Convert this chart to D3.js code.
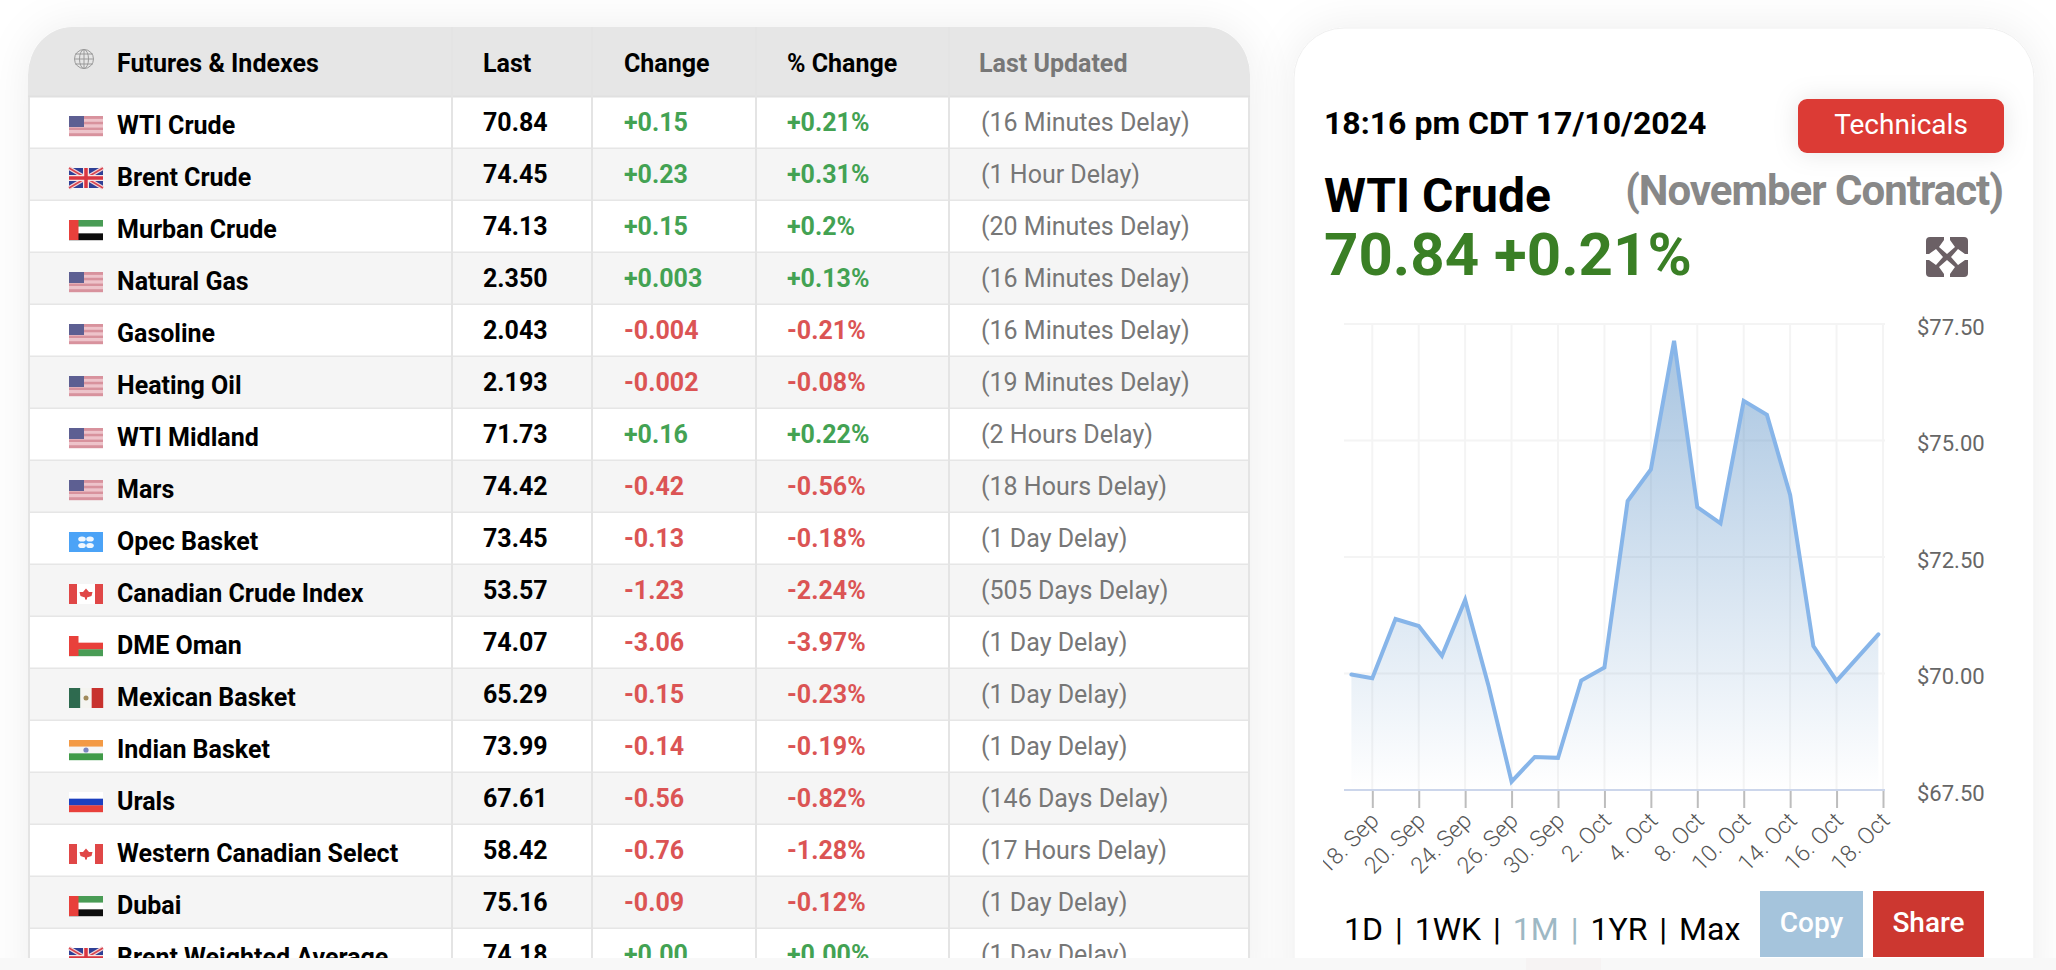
<!DOCTYPE html>
<html>
<head>
<meta charset="utf-8">
<title>Futures & Indexes</title>
<script src="https://cdn.jsdelivr.net/npm/d3@7"></script>
<style>
  html, body { margin: 0; padding: 0; background: #fff; overflow: hidden; }
  svg { display: block; font-family: Roboto, sans-serif; }
</style>
</head>
<body>
<svg id="page" width="2056" height="970"></svg>
<script>
// table
var names = ["WTI Crude", "Brent Crude", "Murban Crude", "Natural Gas", "Gasoline", "Heating Oil", "WTI Midland", "Mars", "Opec Basket", "Canadian Crude Index", "DME Oman", "Mexican Basket", "Indian Basket", "Urals", "Western Canadian Select", "Dubai", "Brent Weighted Average"];
var flags = ["us", "uk", "ae", "us", "us", "us", "us", "us", "opec", "ca", "om", "mx", "in", "ru", "ca", "ae", "uk"];
var lasts = ["70.84", "74.45", "74.13", "2.350", "2.043", "2.193", "71.73", "74.42", "73.45", "53.57", "74.07", "65.29", "73.99", "67.61", "58.42", "75.16", "74.18"];
var changes = ["+0.15", "+0.23", "+0.15", "+0.003", "-0.004", "-0.002", "+0.16", "-0.42", "-0.13", "-1.23", "-3.06", "-0.15", "-0.14", "-0.56", "-0.76", "-0.09", "+0.00"];
var pcts = ["+0.21%", "+0.31%", "+0.2%", "+0.13%", "-0.21%", "-0.08%", "+0.22%", "-0.56%", "-0.18%", "-2.24%", "-3.97%", "-0.23%", "-0.19%", "-0.82%", "-1.28%", "-0.12%", "+0.00%"];
var delays = ["(16 Minutes Delay)", "(1 Hour Delay)", "(20 Minutes Delay)", "(16 Minutes Delay)", "(16 Minutes Delay)", "(19 Minutes Delay)", "(2 Hours Delay)", "(18 Hours Delay)", "(1 Day Delay)", "(505 Days Delay)", "(1 Day Delay)", "(1 Day Delay)", "(1 Day Delay)", "(146 Days Delay)", "(17 Hours Delay)", "(1 Day Delay)", "(1 Day Delay)"];
var headers = ["Futures & Indexes", "Last", "Change", "% Change", "Last Updated"];

// chart
var sessions = [0.1, 1, 2, 3, 4, 5, 6, 7, 8, 9, 10, 11, 12, 13, 14, 15, 16, 17, 18, 19, 20, 21, 22.8];
var prices = [69.98, 69.90, 71.17, 71.02, 70.38, 71.58, 69.75, 67.68, 68.21, 68.19, 69.85, 70.13, 73.70, 74.38, 77.14, 73.57, 73.22, 75.85, 75.55, 73.83, 70.59, 69.84, 70.84];
var tickSessions = [1, 3, 5, 7, 9, 11, 13, 15, 17, 19, 21, 23];
var tickLabels = ["18. Sep", "20. Sep", "24. Sep", "26. Sep", "30. Sep", "2. Oct", "4. Oct", "8. Oct", "10. Oct", "14. Oct", "16. Oct", "18. Oct"];
var priceTicks = [67.5, 70, 72.5, 75, 77.5];
var ranges = ["1D", "1WK", "1M", "1YR", "Max"];

var GREEN = "#43a253";
var RED = "#db5454";
var svg = d3.select("#page");
var defs = svg.append("defs");

// shadows and clips
var shadow = defs.append("filter").attr("id", "soft").attr("x", "-15%").attr("y", "-15%").attr("width", "130%").attr("height", "130%");
shadow.append("feDropShadow").attr("dx", 0).attr("dy", 0).attr("stdDeviation", 22).attr("flood-color", "#000").attr("flood-opacity", 0.07);
var btnShadow = defs.append("filter").attr("id", "btn").attr("x", "-30%").attr("y", "-60%").attr("width", "160%").attr("height", "220%");
btnShadow.append("feDropShadow").attr("dx", 0).attr("dy", 0).attr("stdDeviation", 12).attr("flood-color", "#000").attr("flood-opacity", 0.10);
defs.append("filter").attr("id", "flagBlur").append("feGaussianBlur").attr("stdDeviation", 0.45);

var TABLE_L = 28, TABLE_R = 1250, TABLE_T = 27, HEAD_B = 97, ROW_H = 52;
var colX = [452, 592, 756, 949];
var textX = [117, 483, 624, 787, 979];

function tablePath() {
  var rx = 44, ry = 48;
  return "M" + TABLE_L + ",1000V" + (TABLE_T + ry) + "A" + rx + "," + ry + " 0 0 1 " + (TABLE_L + rx) + "," + TABLE_T +
    "H" + (TABLE_R - rx) + "A" + rx + "," + ry + " 0 0 1 " + TABLE_R + "," + (TABLE_T + ry) + "V1000Z";
}
defs.append("clipPath").attr("id", "tableClip").append("path").attr("d", tablePath());
defs.append("clipPath").attr("id", "xLabelClip").append("rect").attr("x", 1323).attr("y", 790).attr("width", 700).attr("height", 100);

var grad = defs.append("linearGradient").attr("id", "areaFill").attr("x1", 0).attr("y1", 0).attr("x2", 0).attr("y2", 1);
grad.append("stop").attr("offset", 0).attr("stop-color", "#4582be").attr("stop-opacity", 0.47);
grad.append("stop").attr("offset", 1).attr("stop-color", "#4582be").attr("stop-opacity", 0);

// table
svg.append("path").attr("d", tablePath()).attr("fill", "#fff").attr("filter", "url(#soft)");
var table = svg.append("g").attr("clip-path", "url(#tableClip)");
table.append("rect").attr("x", TABLE_L).attr("y", TABLE_T).attr("width", TABLE_R - TABLE_L).attr("height", HEAD_B - TABLE_T).attr("fill", "#e6e6e6");

var rowY = d3.scaleLinear().domain([0, 1]).range([HEAD_B, HEAD_B + ROW_H]);
var rows = table.selectAll("g.row").data(names).enter().append("g").attr("class", "row")
  .attr("transform", function(d, i) { return "translate(0," + rowY(i) + ")"; });
rows.append("rect").attr("x", TABLE_L).attr("width", TABLE_R - TABLE_L).attr("height", ROW_H)
  .attr("fill", function(d, i) { return i % 2 ? "#f5f5f5" : "#fff"; });
rows.append("line").attr("x1", TABLE_L).attr("x2", TABLE_R).attr("y1", ROW_H - 0.5).attr("y2", ROW_H - 0.5)
  .attr("stroke", "#e6e6e6").attr("stroke-width", 2);

// borders
table.append("line").attr("x1", TABLE_L).attr("x2", TABLE_R).attr("y1", HEAD_B - 0.5).attr("y2", HEAD_B - 0.5).attr("stroke", "#e0e0e0").attr("stroke-width", 2);
table.selectAll("line.col").data(colX).enter().append("line").attr("class", "col")
  .attr("x1", function(d) { return d; }).attr("x2", function(d) { return d; })
  .attr("y1", TABLE_T).attr("y2", 1000).attr("stroke", "#e4e4e4").attr("stroke-width", 2);
[TABLE_L + 1, TABLE_R - 1].forEach(function(x) {
  table.append("line").attr("x1", x).attr("x2", x).attr("y1", HEAD_B).attr("y2", 1000).attr("stroke", "#e4e4e4").attr("stroke-width", 2);
});

// header
table.selectAll("text.head").data(headers).enter().append("text").attr("class", "head")
  .attr("x", function(d, i) { return textX[i]; }).attr("y", 72)
  .attr("font-size", 25).attr("font-weight", 700)
  .attr("fill", function(d, i) { return i == 4 ? "#777" : "#000"; })
  .text(function(d) { return d; });

// globe
var globe = table.append("g").attr("transform", "translate(84,59)").attr("fill", "none").attr("stroke", "#9a9a9a").attr("stroke-width", 1);
globe.append("circle").attr("r", 9.5);
globe.append("ellipse").attr("rx", 4.5).attr("ry", 9.5);
globe.append("line").attr("y1", -9.5).attr("y2", 9.5);
[-5, 0, 5].forEach(function(y) {
  globe.append("line").attr("x1", -9).attr("x2", 9).attr("y1", y).attr("y2", y);
});

// row text
function isUp(s) { return s.charAt(0) == "+"; }
rows.append("text").attr("x", textX[0]).attr("y", 37).attr("font-size", 25).attr("font-weight", 700).attr("fill", "#000")
  .text(function(d) { return d; });
rows.append("text").attr("x", textX[1]).attr("y", 33.5).attr("font-size", 25).attr("font-weight", 700).attr("fill", "#000")
  .text(function(d, i) { return lasts[i]; });
rows.append("text").attr("x", textX[2]).attr("y", 33.5).attr("font-size", 25).attr("font-weight", 700)
  .attr("fill", function(d, i) { return isUp(changes[i]) ? GREEN : RED; })
  .text(function(d, i) { return changes[i]; });
rows.append("text").attr("x", textX[3]).attr("y", 33.5).attr("font-size", 25).attr("font-weight", 700)
  .attr("fill", function(d, i) { return isUp(pcts[i]) ? GREEN : RED; })
  .text(function(d, i) { return pcts[i]; });
rows.append("text").attr("x", 981).attr("y", 33.5).attr("font-size", 25).attr("fill", "#777")
  .text(function(d, i) { return delays[i]; });

// flags, 34x20 box
function bands(g, colors, vertical) {
  var n = colors.length;
  colors.forEach(function(c, i) {
    if (vertical) g.append("rect").attr("x", i * 34 / n).attr("width", 34 / n + 0.2).attr("height", 20).attr("fill", c);
    else g.append("rect").attr("y", i * 20 / n).attr("width", 34).attr("height", 20 / n + 0.2).attr("fill", c);
  });
}
var flagDraw = {
  us: function(g) {
    bands(g, ["#d8929d", "#eec3ca", "#d8929d", "#eec3ca", "#d8929d", "#eec3ca", "#d8929d"]);
    g.append("rect").attr("width", 15).attr("height", 11).attr("fill", "#5d5f92");
  },
  uk: function(g) {
    g.append("rect").attr("width", 34).attr("height", 20).attr("fill", "#2f3f96");
    g.append("path").attr("d", "M0,0L34,20M34,0L0,20").attr("stroke", "#f0d5d8").attr("stroke-width", 4);
    g.append("path").attr("d", "M0,0L34,20M34,0L0,20").attr("stroke", "#d9444f").attr("stroke-width", 1.5);
    g.append("path").attr("d", "M17,0V20M0,10H34").attr("stroke", "#f5e5e6").attr("stroke-width", 6);
    g.append("path").attr("d", "M17,0V20M0,10H34").attr("stroke", "#d9343f").attr("stroke-width", 3.5);
  },
  ae: function(g) {
    bands(g, ["#4a9c55", "#fff", "#111"]);
    g.append("rect").attr("width", 9.5).attr("height", 20).attr("fill", "#e8403a");
  },
  om: function(g) {
    bands(g, ["#fff", "#e8403a", "#4a9c55"]);
    g.append("rect").attr("width", 9.5).attr("height", 20).attr("fill", "#e8403a");
  },
  opec: function(g) {
    g.append("rect").attr("width", 34).attr("height", 20).attr("fill", "#4ba3f7");
    [[13, 7], [21, 7], [13, 13.5], [21, 13.5]].forEach(function(p) {
      g.append("ellipse").attr("cx", p[0]).attr("cy", p[1]).attr("rx", 3.8).attr("ry", 2.6).attr("fill", "#f0f7fe");
    });
  },
  ca: function(g) {
    g.append("rect").attr("width", 34).attr("height", 20).attr("fill", "#fff");
    g.append("rect").attr("width", 8).attr("height", 20).attr("fill", "#e04646");
    g.append("rect").attr("x", 26).attr("width", 8).attr("height", 20).attr("fill", "#e04646");
    g.append("path").attr("d", "M17,4.5L20,8L23.5,8L22.5,12L18,13.5V15.5H16V13.5L11.5,12L10.5,8L14,8Z").attr("fill", "#e04646");
  },
  mx: function(g) {
    bands(g, ["#2f6b50", "#f4f4f0", "#c8302f"], true);
    g.append("circle").attr("cx", 17).attr("cy", 10).attr("r", 2.5).attr("fill", "#a08a5a");
  },
  in: function(g) {
    bands(g, ["#f39a45", "#f6f6f6", "#3f9b49"]);
    g.append("circle").attr("cx", 17).attr("cy", 10).attr("r", 2.6).attr("fill", "#7a86c0");
  },
  ru: function(g) {
    bands(g, ["#fff", "#1f3fc0", "#e8403a"]);
  }
};
rows.each(function(d, i) {
  var g = d3.select(this).append("g").attr("transform", "translate(69,19)");
  var inner = g.append("g").attr("filter", "url(#flagBlur)");
  flagDraw[flags[i]](inner);
});

// card
var CARD_L = 1294, CARD_R = 2034, CARD_T = 28;
svg.append("rect").attr("x", CARD_L).attr("y", CARD_T).attr("width", CARD_R - CARD_L).attr("height", 1000).attr("rx", 50)
  .attr("fill", "#fff").attr("stroke", "#efefef").attr("filter", "url(#soft)");

svg.append("text").attr("x", 1324).attr("y", 134).attr("font-size", 32).attr("font-weight", 700).text("18:16 pm CDT 17/10/2024");
svg.append("rect").attr("x", 1798).attr("y", 99).attr("width", 206).attr("height", 54).attr("rx", 9).attr("fill", "#dc3a34").attr("filter", "url(#btn)");
svg.append("text").attr("x", 1901).attr("y", 134).attr("text-anchor", "middle").attr("font-size", 28).attr("fill", "#fff").text("Technicals");
svg.append("text").attr("x", 1324).attr("y", 212).attr("font-size", 48).attr("font-weight", 700).text("WTI Crude");
svg.append("text").attr("x", 2003).attr("y", 205).attr("text-anchor", "end").attr("font-size", 42).attr("font-weight", 700).attr("letter-spacing", -1).attr("fill", "#888").text("(November Contract)");
svg.append("text").attr("x", 1324).attr("y", 275).attr("font-size", 60).attr("font-weight", 700).attr("fill", "#3a7f25").text("70.84 +0.21%");

// expand icon
var icon = svg.append("g").attr("transform", "translate(1926,237)");
icon.append("rect").attr("width", 42).attr("height", 40).attr("rx", 4).attr("fill", "#6b6065");
icon.append("path").attr("fill", "#fff")
  .attr("d", "M18,0H24V3L29,10L21,17L13,10L18,3Z M18,40H24V37L29,30L21,23L13,30L18,37Z M0,17V23H3L10,28L17,20L10,12L3,17Z M42,17V23H39L32,28L25,20L32,12L39,17Z");

// chart
var x = d3.scaleLinear().domain([1, 23]).range([1372.3, 1883]);
var y = d3.scaleLinear().domain([67.5, 77.5]).range([790, 324]);
var points = prices.map(function(p, i) { return [sessions[i], p]; });
var plot = svg.append("g");

plot.selectAll("line.ygrid").data(priceTicks.slice(1)).enter().append("line").attr("class", "ygrid")
  .attr("x1", 1344).attr("x2", 1885).attr("y1", y).attr("y2", y).attr("stroke", "#f4f4f4").attr("stroke-width", 2);
plot.selectAll("line.xgrid").data(tickSessions).enter().append("line").attr("class", "xgrid")
  .attr("x1", x).attr("x2", x).attr("y1", 324).attr("y2", 790).attr("stroke", "#f4f4f4").attr("stroke-width", 2);

var area = d3.area().x(function(d) { return x(d[0]); }).y0(y(67.5)).y1(function(d) { return y(d[1]); });
plot.append("path").datum(points).attr("d", area).attr("fill", "url(#areaFill)");
var line = d3.line().x(function(d) { return x(d[0]); }).y(function(d) { return y(d[1]); });
plot.append("path").datum(points).attr("d", line).attr("fill", "none").attr("stroke", "#87b5e9").attr("stroke-width", 4).attr("stroke-linecap", "round");

// x axis
var xAxis = d3.axisBottom(x).tickValues(tickSessions).tickSize(18)
  .tickFormat(function(d, i) { return tickLabels[i]; });
var xg = plot.append("g").attr("transform", "translate(0,790)").call(xAxis);
xg.select(".domain").remove();
xg.selectAll(".tick line").attr("stroke", "#bdbdbd").attr("stroke-width", 2);
xg.selectAll(".tick text").remove();
plot.append("line").attr("x1", 1344).attr("x2", 1885).attr("y1", 790).attr("y2", 790).attr("stroke", "#ccd6eb").attr("stroke-width", 2);

var labels = plot.append("g").attr("clip-path", "url(#xLabelClip)");
labels.selectAll("text").data(tickLabels).enter().append("text")
  .attr("transform", function(d, i) { return "translate(" + (x(tickSessions[i]) + 8) + ",822) rotate(-45)"; })
  .attr("text-anchor", "end").attr("font-size", 23).attr("font-weight", 300).attr("fill", "#555")
  .text(function(d) { return d; });

// y axis
var yAxis = d3.axisRight(y).tickValues(priceTicks).tickSize(0).tickFormat(function(d) { return "$" + d3.format(".2f")(d); });
var yg = plot.append("g").attr("transform", "translate(1917,0)").call(yAxis);
yg.select(".domain").remove();
yg.selectAll("text").attr("x", 0).attr("dy", "0.35em").attr("font-family", "Roboto").attr("font-size", 22).attr("fill", "#666")
  .attr("transform", "translate(0,2.5)");

// range links
var rangeText = svg.append("text").attr("x", 1344).attr("y", 940).attr("font-size", 32).attr("word-spacing", 4).attr("fill", "#000");
ranges.forEach(function(r, i) {
  var on = r == "1M";
  rangeText.append("tspan").attr("fill", on ? "#9db8c4" : "#000").text(r + (i < ranges.length - 1 ? " | " : ""));
});

svg.append("rect").attr("x", 1760).attr("y", 891).attr("width", 103).attr("height", 66).attr("fill", "#a5c4dc");
svg.append("text").attr("x", 1811.5).attr("y", 932).attr("text-anchor", "middle").attr("font-size", 28).attr("font-weight", 500).attr("fill", "#fff").text("Copy");
svg.append("rect").attr("x", 1873).attr("y", 891).attr("width", 111).attr("height", 66).attr("fill", "#cc3730");
svg.append("text").attr("x", 1928.5).attr("y", 932).attr("text-anchor", "middle").attr("font-size", 28).attr("font-weight", 500).attr("fill", "#fff").text("Share");

// bottom strip
svg.append("rect").attr("x", 0).attr("y", 958).attr("width", 2056).attr("height", 12).attr("fill", "#f8f8f8");
svg.append("rect").attr("x", 1526).attr("y", 958).attr("width", 75).attr("height", 12).attr("fill", "#f6f3f3");
</script>
</body>
</html>
